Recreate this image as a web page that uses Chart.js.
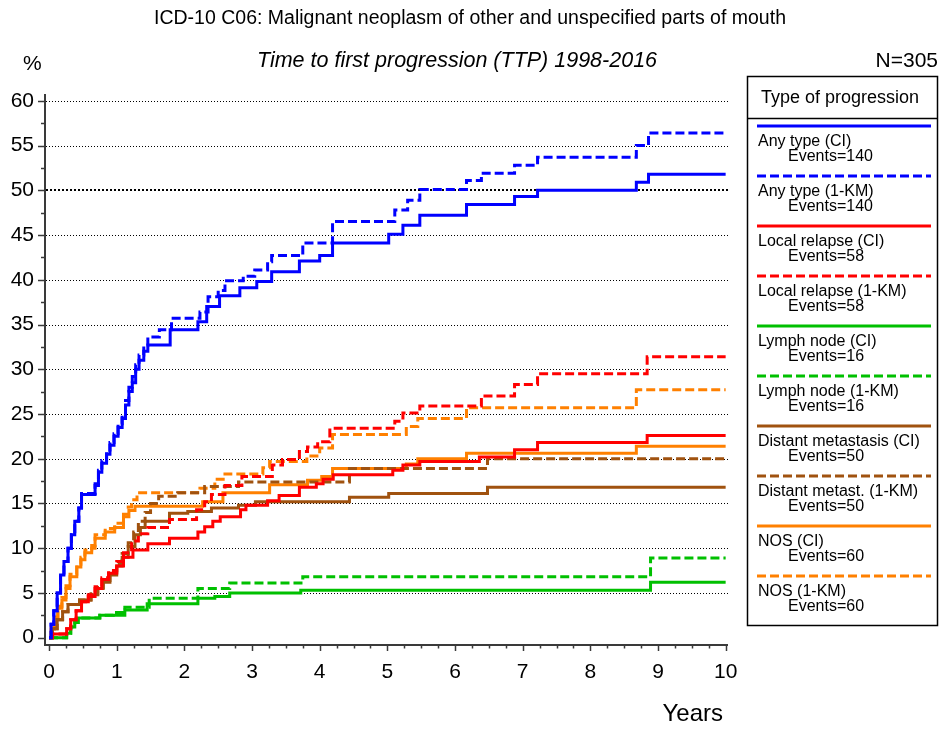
<!DOCTYPE html>
<html lang="en">
<head>
<meta charset="UTF-8" />
<title>ICD-10 C06 - Time to first progression</title>
<script src="https://cdn.jsdelivr.net/npm/chart.js"></script>
<style>
  html, body { margin: 0; padding: 0; background: #fff; }
  .chart-card { width: 941px; height: 729px; }
</style>
</head>
<body>
<div class="chart-card">
  <canvas id="ttpChart" width="941" height="729"></canvas>
</div>
<script>
// Each series: [years since diagnosis, cumulative % with progression] at every step
const anyTypeCI = [[0,0],[0.03,1.5],[0.07,3],[0.12,5],[0.17,7],[0.22,8.5],[0.28,10],[0.33,11.5],[0.38,13],[0.44,14.5],[0.48,16],[0.68,17],[0.73,18.5],[0.78,19.5],[0.85,20.5],[0.9,21.5],[0.96,22.5],[1.02,23.5],[1.08,24.5],[1.13,26],[1.18,27.5],[1.23,28.5],[1.28,30],[1.33,31],[1.4,32],[1.46,32.7],[1.79,34.4],[2.2,35.3],[2.33,37],[2.52,38.2],[2.82,39.1],[3.07,39.8],[3.29,40.9],[3.7,42.1],[4.0,42.7],[4.19,44.1],[5.02,45.1],[5.23,46.1],[5.48,47.2],[6.17,48.4],[6.88,49.3],[7.22,50.0],[8.68,50.9],[8.86,51.8],[10,51.8]];
const anyType1KM = [[0,0],[0.03,1.5],[0.07,3],[0.12,5],[0.17,7],[0.22,8.5],[0.28,10],[0.33,11.5],[0.38,13],[0.44,14.5],[0.48,16.1],[0.68,17.2],[0.73,18.7],[0.78,19.8],[0.85,20.8],[0.9,21.8],[0.96,22.8],[1.02,23.9],[1.08,25],[1.13,26.5],[1.18,28],[1.23,29.2],[1.28,30.5],[1.33,31.6],[1.4,32.7],[1.46,33.6],[1.63,34.4],[1.81,35.7],[2.23,36.4],[2.35,38.1],[2.5,38.8],[2.6,39.9],[2.87,40.4],[3.04,41.1],[3.23,42.0],[3.29,42.7],[3.75,44.1],[4.19,46.5],[5.11,47.8],[5.3,48.9],[5.48,50.1],[6.17,51.1],[6.39,51.9],[6.88,52.8],[7.22,53.7],[8.68,55.0],[8.86,56.4],[10,56.4]];
const localCI = [[0,0],[0.05,0.4],[0.26,1.0],[0.32,2.0],[0.4,3.0],[0.48,4.0],[0.58,4.6],[0.68,5.5],[0.78,6.5],[0.88,7.2],[1.0,8.0],[1.1,9.0],[1.24,9.8],[1.46,10.5],[1.78,11.1],[2.2,11.8],[2.3,12.4],[2.42,13.0],[2.53,13.5],[2.83,14.3],[2.91,14.8],[3.23,15.3],[3.4,15.9],[3.7,16.8],[3.95,17.2],[4.05,17.7],[4.2,18.2],[5.08,18.7],[5.23,19.3],[5.48,19.7],[6.36,20.2],[6.88,21.0],[7.22,21.8],[8.84,22.6],[10,22.6]];
const local1KM = [[0,0],[0.05,0.4],[0.26,1.0],[0.32,2.0],[0.4,3.0],[0.48,4.0],[0.58,4.8],[0.68,5.7],[0.78,6.7],[0.88,7.5],[1.0,8.5],[1.1,9.5],[1.22,10.8],[1.32,11.6],[1.46,12.3],[1.78,13.2],[2.18,14.3],[2.3,15.2],[2.4,16.0],[2.6,17.0],[2.85,18.0],[3.3,19.3],[3.45,19.9],[3.7,20.8],[3.82,21.3],[3.97,21.9],[4.15,23.4],[5.11,24.2],[5.23,25.1],[5.48,25.9],[6.39,27.0],[6.88,28.3],[7.22,29.5],[8.84,31.4],[10,31.4]];
const lymphCI = [[0,0],[0.26,0.5],[0.32,1.2],[0.38,1.7],[0.43,2.2],[0.75,2.5],[1.12,3.1],[1.45,3.8],[2.2,4.4],[2.45,4.6],[2.67,5.0],[3.72,5.3],[8.89,6.2],[10,6.2]];
const lymph1KM = [[0,0],[0.26,0.5],[0.32,1.2],[0.38,1.7],[0.43,2.2],[0.75,2.5],[0.95,2.8],[1.12,3.4],[1.48,4.4],[2.2,5.5],[2.67,6.1],[3.75,6.8],[8.89,8.9],[10,8.9]];
const distantCI = [[0,0],[0.05,1.0],[0.12,2.0],[0.2,2.9],[0.28,3.7],[0.45,4.2],[0.62,4.8],[0.72,5.5],[0.8,6.2],[0.9,7.0],[1.0,8.0],[1.08,9.0],[1.17,10.2],[1.27,11.5],[1.35,12.3],[1.42,13.0],[1.78,13.9],[2.05,14.1],[2.4,14.5],[2.8,14.8],[3.05,15.2],[4.44,15.7],[5.02,16.1],[6.48,16.8],[10,16.8]];
const distant1KM = [[0,0],[0.05,1.0],[0.12,2.0],[0.2,2.9],[0.28,3.7],[0.45,4.2],[0.62,4.9],[0.72,5.6],[0.8,6.4],[0.9,7.3],[1.0,8.3],[1.08,9.4],[1.17,10.6],[1.25,11.8],[1.32,13.0],[1.42,14.0],[1.5,15.0],[1.62,15.8],[1.9,16.2],[2.3,16.9],[2.8,17.4],[4.44,18.9],[6.48,20.0],[10,20.0]];
const nosCI = [[0,0],[0.03,1.0],[0.08,2.2],[0.13,3.3],[0.19,4.2],[0.25,5.5],[0.31,6.8],[0.41,7.9],[0.47,8.7],[0.53,9.5],[0.63,10.0],[0.68,11.1],[0.83,11.8],[0.97,12.3],[1.1,13.5],[1.18,14.2],[1.27,14.7],[2.27,15.2],[2.57,16.2],[3.26,17.1],[3.82,17.6],[4.03,18.0],[4.19,18.9],[5.28,19.4],[5.45,20.0],[6.17,20.6],[8.68,21.4],[10,21.4]];
const nos1KM = [[0,0],[0.03,1.0],[0.08,2.3],[0.13,3.5],[0.19,4.5],[0.25,5.8],[0.31,7.1],[0.41,8.2],[0.47,9.0],[0.53,9.8],[0.63,10.3],[0.68,11.5],[0.83,12.2],[0.97,12.8],[1.1,13.8],[1.17,14.6],[1.22,15.4],[1.3,16.2],[2.23,16.7],[2.45,17.7],[2.6,18.3],[3.16,19.0],[3.26,19.7],[3.81,20.3],[4.0,21.2],[4.19,22.7],[5.28,23.6],[5.45,24.5],[6.17,25.7],[8.68,27.7],[10,27.7]];

const seriesLabels = ['Any type (CI)', 'Any type (1-KM)', 'Local relapse (CI)', 'Local relapse (1-KM)',
  'Lymph node (CI)', 'Lymph node (1-KM)', 'Distant metastasis (CI)', 'Distant metast. (1-KM)',
  'NOS (CI)', 'NOS (1-KM)'];
const eventCounts = [140, 140, 58, 58, 16, 16, 50, 50, 60, 60];
const seriesColors = ['#0000ff', '#0000ff', '#ff0000', '#ff0000', '#00c000', '#00c000',
  '#a0520f', '#a0520f', '#ff8000', '#ff8000'];
const seriesDashed = [false, true, false, true, false, true, false, true, false, true];
const seriesData = [anyTypeCI, anyType1KM, localCI, local1KM, lymphCI, lymph1KM,
  distantCI, distant1KM, nosCI, nos1KM];

const FONT = "'Liberation Sans', Arial, sans-serif";
const AXIS_COLOR = '#3a3a3a';

// dotted horizontal grid, tick marks, headings and the boxed legend
const decorations = {
  id: 'decorations',
  beforeDatasetsDraw(chart) {
    const { ctx, chartArea, scales: { y } } = chart;
    ctx.save();
    ctx.strokeStyle = '#000';
    y.ticks.forEach(t => {
      if (t.value <= 0) return;
      const heavy = t.value === 50;
      const py = Math.round(y.getPixelForValue(t.value)) + (heavy ? 0 : 0.5);
      ctx.lineWidth = heavy ? 2 : 1;
      ctx.setLineDash(heavy ? [2, 2] : [1, 2]);
      ctx.beginPath();
      ctx.moveTo(chartArea.left + 1, py);
      ctx.lineTo(chartArea.right + 1, py);
      ctx.stroke();
    });
    ctx.restore();
  },
  afterDraw(chart) {
    const { ctx, chartArea, scales: { x, y } } = chart;
    ctx.save();

    // tick marks: majors on labelled values, minors in between
    ctx.strokeStyle = AXIS_COLOR;
    ctx.lineWidth = 1.5;
    for (let v = 0; v <= 60; v += 2.5) {
      const py = Math.round(y.getPixelForValue(v)) + 0.5;
      const len = v % 5 === 0 ? 7 : 4;
      ctx.beginPath();
      ctx.moveTo(chartArea.left - len, py);
      ctx.lineTo(chartArea.left, py);
      ctx.stroke();
    }
    for (let v = 0; v <= 10; v += 0.25) {
      const px = Math.round(x.getPixelForValue(v)) + 0.5;
      const len = Number.isInteger(v) ? 6 : 3.5;
      ctx.beginPath();
      ctx.moveTo(px, chartArea.bottom);
      ctx.lineTo(px, chartArea.bottom + len);
      ctx.stroke();
    }

    // headings
    ctx.fillStyle = '#000';
    ctx.textBaseline = 'alphabetic';
    ctx.textAlign = 'center';
    ctx.font = `19.5px ${FONT}`;
    ctx.fillText('ICD-10 C06: Malignant neoplasm of other and unspecified parts of mouth', 470, 24);
    ctx.font = `italic 21.5px ${FONT}`;
    ctx.fillText('Time to first progression (TTP) 1998-2016', 457, 67);
    ctx.textAlign = 'left';
    ctx.font = `21px ${FONT}`;
    ctx.fillText('%', 23, 70);
    ctx.textAlign = 'right';
    ctx.font = `21px ${FONT}`;
    ctx.fillText('N=305', 938, 67);
    ctx.font = `24px ${FONT}`;
    ctx.fillText('Years', 723, 721);

    // legend box
    const box = { left: 747.5, top: 76.5, right: 937.5, bottom: 625.5 };
    ctx.strokeStyle = '#000';
    ctx.lineWidth = 1.5;
    ctx.strokeRect(box.left, box.top, box.right - box.left, box.bottom - box.top);
    ctx.beginPath();
    ctx.moveTo(box.left, 118.5);
    ctx.lineTo(box.right, 118.5);
    ctx.stroke();
    ctx.textAlign = 'left';
    ctx.font = `18px ${FONT}`;
    ctx.fillText('Type of progression', 761, 103);

    chart.data.datasets.forEach((ds, i) => {
      const ly = 126 + i * 50;
      ctx.strokeStyle = ds.borderColor;
      ctx.lineWidth = 3;
      ctx.setLineDash(ds.borderDash);
      ctx.beginPath();
      ctx.moveTo(757, ly);
      ctx.lineTo(931, ly);
      ctx.stroke();
      ctx.setLineDash([]);
      ctx.fillStyle = '#000';
      ctx.font = `16px ${FONT}`;
      ctx.fillText(ds.label, 758, ly + 20);
      ctx.fillText('Events=' + eventCounts[i], 788, ly + 35);
    });
    ctx.restore();
  }
};

const datasets = seriesData.map((pts, i) => ({
  label: seriesLabels[i],
  data: pts.map(([t, v]) => ({ x: t, y: v })),
  borderColor: seriesColors[i],
  borderDash: seriesDashed[i] ? [9, 4] : [],
  borderWidth: 3,
  borderCapStyle: 'butt',
  borderJoinStyle: 'miter',
  pointRadius: 0,
  stepped: true,
  fill: false
}));

new Chart(document.getElementById('ttpChart'), {
  type: 'line',
  data: { datasets },
  options: {
    responsive: false,
    animation: false,
    layout: { padding: { top: 95, right: 214, left: 0, bottom: 0 } },
    plugins: { legend: { display: false }, tooltip: { enabled: false } },
    scales: {
      x: {
        type: 'linear',
        min: -0.06,
        max: 10.02,
        afterFit: s => { s.height = 84; },
        grid: { display: false, drawTicks: false },
        border: { display: true, color: AXIS_COLOR, width: 2 },
        ticks: {
          stepSize: 1, includeBounds: false, autoSkip: false, maxRotation: 0,
          padding: 15, color: '#000', font: { family: FONT, size: 21 }
        }
      },
      y: {
        type: 'linear',
        min: -0.82,
        max: 60.65,
        afterFit: s => { s.width = 45; },
        grid: { display: false, drawTicks: false },
        border: { display: true, color: AXIS_COLOR, width: 2 },
        ticks: {
          stepSize: 5, includeBounds: false,
          padding: 11, color: '#000', font: { family: FONT, size: 21 }
        }
      }
    }
  },
  plugins: [decorations]
});
</script>
</body>
</html>
